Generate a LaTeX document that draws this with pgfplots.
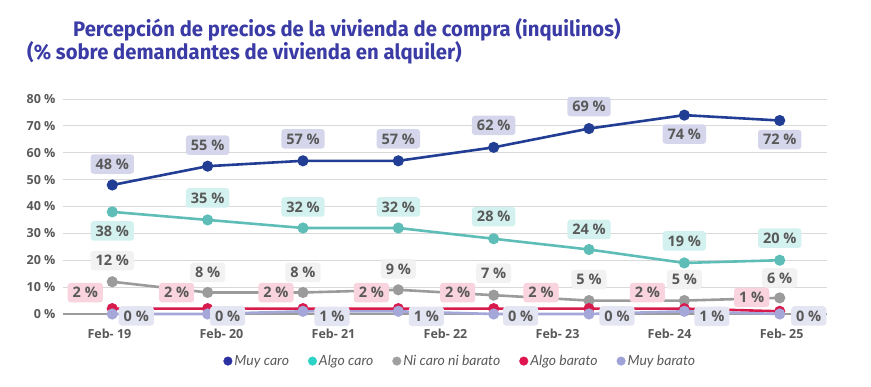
\documentclass[border=0pt]{standalone}
\usepackage{pgfplots}
\pgfplotsset{compat=1.18}
\usepackage{fontspec}
\setmainfont{Open Sans}
\newfontfamily\titlefont[FakeStretch=0.965]{Fira Sans}
\newfontfamily\legendfont{Lato}
\definecolor{titleblue}{HTML}{3B3BA6}
\definecolor{labgray}{HTML}{595959}
\definecolor{gridgray}{HTML}{D9D9D9}
\definecolor{mcline}{HTML}{213D94}
\definecolor{mcbox}{HTML}{D5D6EB}
\definecolor{mcdot}{HTML}{2C31A1}
\definecolor{acline}{HTML}{5EBEB7}
\definecolor{acbox}{HTML}{D3F2EF}
\definecolor{acdot}{HTML}{2ED3C7}
\definecolor{ncline}{HTML}{9B9B9B}
\definecolor{ncbox}{HTML}{F2F2F2}
\definecolor{ncdot}{HTML}{A0A0A0}
\definecolor{abline}{HTML}{D81B4D}
\definecolor{abbox}{HTML}{F9D3DD}
\definecolor{abdot}{HTML}{E0144F}
\definecolor{mbline}{HTML}{A4A7D7}
\definecolor{mbbox}{HTML}{E4E5F3}
\definecolor{mbdot}{HTML}{9EA2D6}

\pgfplotsset{
  series/.style n args={2}{
    line width=2.6pt, color=#1, mark=*, mark size=4.2pt, mark options={solid},
    nodes near coords={\pgfmathprintnumber{\pgfplotspointmeta}~\%},
    point meta=y,
    visualization depends on={\thisrow{dx}\as\dx},
    visualization depends on={\thisrow{dy}\as\dy},
    every node near coord/.append style={anchor=center, xshift=\dx pt, yshift=\dy pt,
      fill=#2, text=labgray, rounded corners=3pt, inner xsep=5pt, inner ysep=4.5pt,
      text height=10.5pt, text depth=0pt, font=\bfseries\fontsize{14.5}{16}\selectfont},
    forget plot},
}

\begin{document}
\begin{tikzpicture}
\path[use as bounding box] (-63pt,-73pt) rectangle (808pt,314pt);
\begin{axis}[
  at={(0pt,0pt)}, anchor=south west, scale only axis,
  width=764pt, height=215pt,
  xmin=-0.517, xmax=7.496, ymin=0, ymax=80, clip=false,
  axis line style={draw=none}, major tick length=0pt,
  ytick={0,10,...,80}, ymajorgrids, grid style={gridgray, line width=1pt},
  yticklabel={\pgfmathprintnumber{\tick}~\%},
  yticklabel style={font=\bfseries\fontsize{12.5}{14}\selectfont, text=labgray, anchor=east, xshift=-4pt},
  xtick={-0.03,1.145,2.32,3.495,4.67,5.845,7.02},
  xticklabels={Feb- 19,Feb- 20,Feb- 21,Feb- 22,Feb- 23,Feb- 24,Feb- 25},
  xticklabel style={font=\bfseries\fontsize{12.5}{14}\selectfont, text=labgray, anchor=center, yshift=-20pt},
  extra y ticks={0}, extra y tick labels={},
  extra y tick style={grid style={ncline, line width=2.5pt}},
  /pgf/number format/assume math mode=true,
  legend style={at={(0.52,-0.219)}, anchor=center, draw=none, fill=none,
    legend columns=-1, font=\legendfont\itshape\fontsize{14}{16}\selectfont, text=labgray,
    /tikz/every even column/.append style={column sep=17pt}},
  legend image code/.code={\fill[#1] (0pt,0pt) circle (4.3pt);},
]
\addplot[series={mcline}{mcbox}] table {
x y dx dy
0 48 0 21
1 55 0 21
2 57 0 22
3 57 0 22
4 62 0 22
5 69 0 22
6 74 0 -19
7 72 0 -19
};
\addplot[series={acline}{acbox}] table {
x y dx dy
0 38 0 -19
1 35 0 22
2 32 0 21
3 32 0 21
4 28 0 22
5 24 0 20
6 19 0 22
7 20 0 22
};
\addplot[series={ncline}{ncbox}] table {
x y dx dy
0 12 0 21
1 8 0 20
2 8 0 20
3 9 0 21
4 7 0 22
5 5 0 21
6 5 0 21
7 6 0 20
};
\addplot[series={abline}{abbox}] table {
x y dx dy
0 2 -27 16
1 2 -31 16
2 2 -27 16
3 2 -27 16
4 2 -36 16
5 2 -48 16
6 2 -37 16
7 1 -28 14
};
\addplot[series={mbline}{mbbox}] table {
x y dx dy
0 0 24 -2
1 0 20 -2
2 1 29 -5
3 1 28 -5
4 0 27 -2
5 0 28 -2
6 1 27.5 -5
7 0 29 -2
};
\addlegendimage{mcdot, fill=mcdot}\addlegendentry{Muy caro}
\addlegendimage{acdot, fill=acdot}\addlegendentry{Algo caro}
\addlegendimage{ncdot, fill=ncdot}\addlegendentry{Ni caro ni barato}
\addlegendimage{abdot, fill=abdot}\addlegendentry{Algo barato}
\addlegendimage{mbdot, fill=mbdot}\addlegendentry{Muy barato}
\end{axis}
\node[anchor=base west, font=\titlefont\bfseries\fontsize{21}{24}\selectfont, text=titleblue, inner sep=0pt] at (10pt,277.5pt) {Percepción de precios de la vivienda de compra (inquilinos)};
\node[anchor=base west, font=\titlefont\bfseries\fontsize{21}{24}\selectfont, text=titleblue, inner sep=0pt] at (-36pt,254.5pt) {(\% sobre demandantes de vivienda en alquiler)};
\end{tikzpicture}
\end{document}
